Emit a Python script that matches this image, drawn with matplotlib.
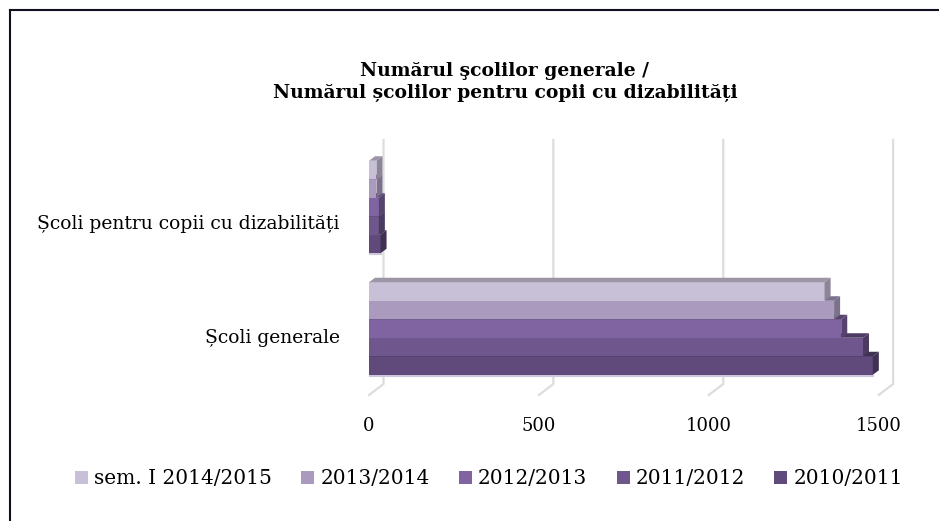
import numpy as np
import matplotlib.pyplot as plt
from matplotlib.patches import Patch, Polygon
from matplotlib.lines import Line2D

categories = ["Școli generale", "Școli pentru copii cu dizabilități"]
series = ["sem. I 2014/2015", "2013/2014", "2012/2013", "2011/2012", "2010/2011"]
scoli_generale = [1341, 1369, 1390, 1454, 1483]
scoli_dizabilitati = [22, 22, 29, 29, 34]
xticks = [0, 500, 1000, 1500]

front_col = ["#C8C0D7", "#A99ABE", "#8064A2", "#6F578D", "#604A7B"]
side_col = ["#8C8599", "#7B718C", "#56436E", "#4B3B60", "#3F3152"]
top_col = ["#9C95A6", "#7B718C", "#56436E", "#4B3B60", "#3F3152"]

W, H = 939, 521
fig = plt.figure(figsize=(W / 100, H / 100), dpi=100)
plt.rcParams['font.family'] = ['DejaVu Serif']

# axes geometry in pixels
L, R, T, B = 369, 899, 130, 400
ax = fig.add_axes([L / W, 1 - B / H, (R - L) / W, (B - T) / H])
xmax = 1560
px_x = (R - L) / xmax          # px per value unit
c_gen, c_dis = 328.5, 207      # group centres (px)
unit = c_gen - c_dis           # px per category unit
ax.set_xlim(0, xmax)
ax.set_ylim(-(B - c_gen) / unit, 1 + (c_dis - T) / unit)


def py(p):
    # pixel row -> y data
    return (c_gen - p) / unit


h = 18.5 / unit
dx = 6 / px_x
dy = 4.5 / unit

# back wall grid + floor slant
for t in xticks:
    x0 = t
    x1 = t + 14.5 / px_x
    ax.plot([x0, x1, x1], [py(395), py(384), py(140)], color="#DDDDDD",
            lw=1.6, zorder=0, solid_joinstyle="miter", clip_on=False)

data = [scoli_generale, scoli_dizabilitati]
for ci, vals in enumerate(data):
    for i in range(len(series) - 1, -1, -1):
        v = vals[i]
        yc = ci + (2 - i) * h
        ybot, ytop = yc - h / 2, yc + h / 2
        ax.barh(yc, v, height=h, color=front_col[i], zorder=2 + (5 - i) * 3)
        ax.add_patch(Polygon([(0, ytop), (v, ytop), (v + dx, ytop + dy), (dx, ytop + dy)],
                             closed=True, color=top_col[i], lw=0, zorder=2 + (5 - i) * 3 + 1))
        ax.add_patch(Polygon([(v, ybot), (v, ytop), (v + dx, ytop + dy), (v + dx, ybot + dy)],
                             closed=True, color=side_col[i], lw=0, zorder=2 + (5 - i) * 3 + 1))
    # thin floor edge under the bottom bar
    yb = ci - 2 * h - h / 2
    ax.plot([0, vals[-1]], [yb - 1.2 / unit] * 2, color="#CFC6DD", lw=1.5, zorder=1)

ax.set_xticks(xticks)
ax.set_xticklabels([str(t) for t in xticks], fontsize=13)
ax.set_yticks([py(336), py(222)])
ax.set_yticklabels(categories, fontsize=13.5)
ax.tick_params(axis="both", length=0)
ax.tick_params(axis="x", pad=12)
ax.tick_params(axis="y", pad=21)
for s in ax.spines.values():
    s.set_visible(False)
ax.patch.set_alpha(0)

fig.text(505 / W, 1 - 82 / H, "Numărul şcolilor generale /\nNumărul școlilor pentru copii cu dizabilități",
         ha="center", va="center", fontsize=13.5, fontweight="bold", linespacing=1.35)

handles = [Patch(facecolor=c, edgecolor="none") for c in front_col]
fig.legend(handles, series, loc="center", bbox_to_anchor=(489 / W, 1 - 479 / H), ncol=5,
           frameon=False, fontsize=14.5, handlelength=0.65, handleheight=0.65,
           handletextpad=0.3, columnspacing=1.45)

# outer frame (left and top edges)
fig.add_artist(Line2D([10 / W, 10 / W], [0, 1 - 10 / H], color="#101020", lw=1.5))
fig.add_artist(Line2D([10 / W, 1], [1 - 10 / H, 1 - 10 / H], color="#101020", lw=1.5))

fig.savefig("out.png", dpi=100)
